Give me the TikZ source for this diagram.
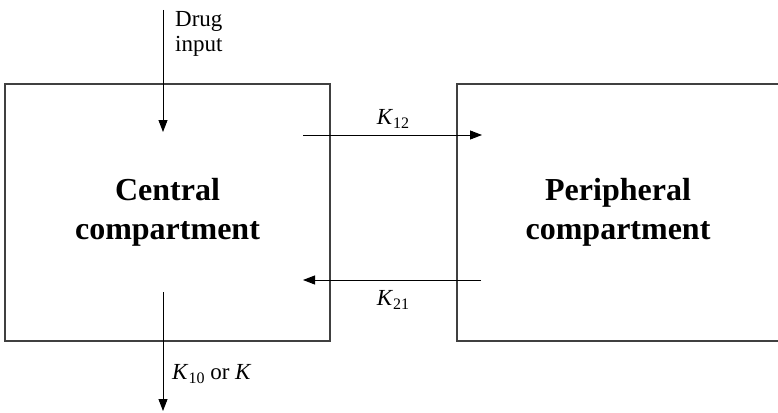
\documentclass[tikz,border=0pt]{standalone}
\usepackage{fontspec}
\setmainfont{Liberation Serif}
\usetikzlibrary{arrows.meta}

% rate constant: italic K with a lowered upright index
\newcommand{\rateK}[1]{\textit{K}\raisebox{-0.4ex}{\fontsize{16}{16}\selectfont #1}}

\tikzset{
  compbox/.style={draw=black!75, line width=1.2pt, rectangle, inner sep=0pt,
    align=center, font=\fontsize{32}{39}\selectfont\bfseries},
  flow/.style={draw=black, line width=0.9pt,
    -{Triangle[length=12pt,width=9pt]}},
  lbl/.style={inner sep=0pt, font=\fontsize{23}{25}\selectfont}
}

\begin{document}
\begin{tikzpicture}[x=1pt,y=-1pt]
  \useasboundingbox (0,0) rectangle (778,412);
  \clip (0,0) rectangle (778,412);

  % the two compartments
  \node[compbox, minimum width=325pt, minimum height=257pt] (central)
    at (167.5,212.5) {Central\\compartment};
  \node[compbox, minimum width=322pt, minimum height=257pt] (peripheral)
    at (618,212.5) {Peripheral\\compartment};

  % end points of the flows
  \coordinate (dosein)  at (163,10);
  \coordinate (dosetip) at (163,132);
  \coordinate (k12from) at (303,135);
  \coordinate (k12to)   at (482,135);
  \coordinate (k21from) at (481,280);
  \coordinate (k21to)   at (303,280);
  \coordinate (elimfrom) at (163,292);
  \coordinate (elimto)   at (163,411);

  \draw[flow] (dosein) -- (dosetip);
  \draw[flow] (k12from) -- (k12to);
  \draw[flow] (k21from) -- (k21to);
  \draw[flow] (elimfrom) -- (elimto);

  % labels
  \node[lbl, anchor=base west, align=left] (druglbl) at (175,52) {Drug\\input};
  \node[lbl, anchor=base] (k12lbl) at (393,124) {\rateK{12}};
  \node[lbl, anchor=base] (k21lbl) at (393,305) {\rateK{21}};
  \node[lbl, anchor=base west] (elimlbl) at (172,379) {\rateK{10} or \textit{K}};
\end{tikzpicture}
\end{document}
